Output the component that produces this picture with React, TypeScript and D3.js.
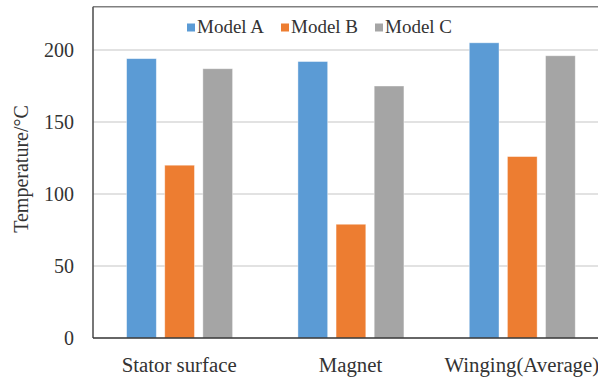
import * as d3 from "d3";
import {useRef, useEffect} from "react";

const categories = ["Stator surface", "Magnet", "Winging(Average)"];
const seriesNames = ["Model A", "Model B", "Model C"];
const modelA = [194, 192, 205];
const modelB = [120, 79, 126];
const modelC = [187, 175, 196];
const yTicks = [0, 50, 100, 150, 200];
const colors = ["#5B9BD5", "#ED7D31", "#A5A5A5"];

const W = 598, H = 378;

function BarChart() {
    const svgRef = useRef(null);

    useEffect(() => {
        const svg = d3.select(svgRef.current);
        svg.selectAll("*").remove();

        const values = [modelA, modelB, modelC];

        const x = d3.scaleBand()
            .domain(categories)
            .range([94, 608]);

        const inner = d3.scaleBand()
            .domain(seriesNames)
            .range([32.6, 138.6])
            .paddingInner(0.22);

        const y = d3.scaleLinear()
            .domain([0, 230])
            .range([338, 6.8]);

        // gridlines
        svg.append("g")
            .selectAll("line")
            .data(yTicks.filter(d => d > 0))
            .enter()
            .append("line")
            .attr("x1", 93)
            .attr("x2", W)
            .attr("y1", d => y(d))
            .attr("y2", d => y(d))
            .attr("stroke", "#d9d9d9")
            .attr("stroke-width", 1.3);

        // bars
        categories.forEach((c, ci) => {
            svg.append("g")
                .selectAll("rect")
                .data(seriesNames)
                .enter()
                .append("rect")
                .attr("x", s => x(c) + inner(s))
                .attr("y", (s, si) => y(values[si][ci]))
                .attr("width", inner.bandwidth())
                .attr("height", (s, si) => y(0) - y(values[si][ci]))
                .attr("fill", (s, si) => colors[si])
                .attr("stroke", "#ffffff")
                .attr("stroke-opacity", 0.5)
                .attr("stroke-width", 0.8);
        });

        // frame: top border, left axis, bottom axis
        svg.append("line")
            .attr("x1", 93).attr("x2", W)
            .attr("y1", y(230)).attr("y2", y(230))
            .attr("stroke", "#808080").attr("stroke-width", 1.6);
        svg.append("line")
            .attr("x1", 93).attr("x2", 93)
            .attr("y1", y(230)).attr("y2", y(0))
            .attr("stroke", "#555555").attr("stroke-width", 1.6);
        svg.append("line")
            .attr("x1", 93).attr("x2", W)
            .attr("y1", y(0)).attr("y2", y(0))
            .attr("stroke", "#333333").attr("stroke-width", 1.6);

        // y tick labels
        svg.append("g")
            .selectAll("text")
            .data(yTicks)
            .enter()
            .append("text")
            .attr("x", 74)
            .attr("y", d => y(d))
            .attr("dy", "0.35em")
            .attr("text-anchor", "end")
            .attr("font-size", 20)
            .text(d => d);

        // x labels
        svg.append("g")
            .selectAll("text")
            .data(categories)
            .enter()
            .append("text")
            .attr("x", d => x(d) + x.bandwidth() / 2 - 0.5)
            .attr("y", 372)
            .attr("text-anchor", "middle")
            .attr("font-size", 20.8)
            .text(d => d);

        // y title
        svg.append("text")
            .attr("transform", "translate(28,169) rotate(-90)")
            .attr("text-anchor", "middle")
            .attr("font-size", 20)
            .text("Temperature/°C");

        // legend
        const legend = svg.append("g")
            .selectAll("g")
            .data(seriesNames)
            .enter()
            .append("g")
            .attr("transform", (d, i) => `translate(${195 + i * 94},0)`);
        legend.append("rect")
            .attr("x", -8)
            .attr("y", 23.5)
            .attr("width", 8)
            .attr("height", 8)
            .attr("fill", (d, i) => colors[i]);
        legend.append("text")
            .attr("x", 2)
            .attr("y", 33)
            .attr("font-size", 19)
            .text(d => d);
    }, []);

    return (
        <svg
            ref={svgRef}
            width={W}
            height={H}
            fontFamily="'Liberation Serif', 'Times New Roman', serif"
            fill="#333333"
            style={{position: "absolute", left: 0, top: 0, background: "#ffffff"}}
        >
        </svg>
    );
}

export default function App() {
    return <BarChart/>;
}
